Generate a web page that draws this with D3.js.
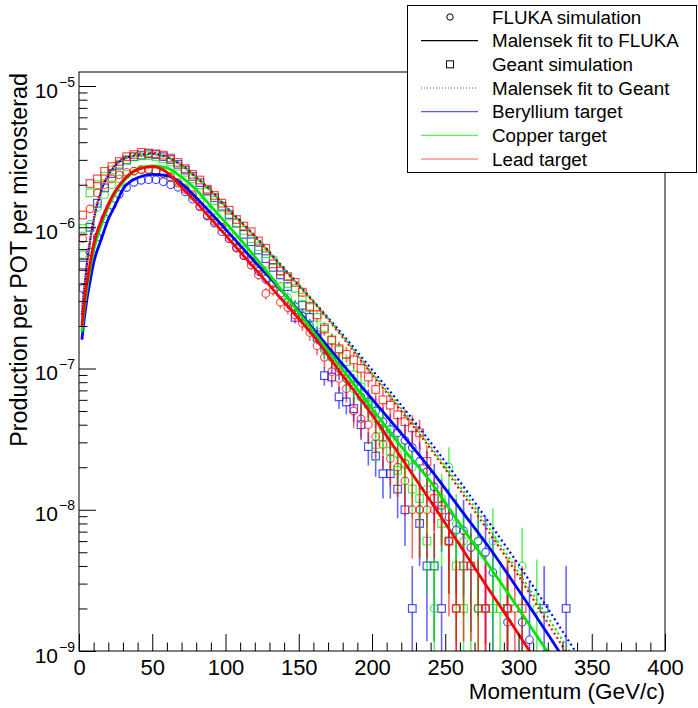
<!DOCTYPE html>
<html>
<head>
<meta charset="utf-8">
<script src="https://cdn.jsdelivr.net/npm/d3@7"></script>
<style>
  body { margin: 0; background: #fff; }
  svg text { font-family: "Liberation Sans", Arial, sans-serif; fill: #000; }
</style>
</head>
<body>
<svg id="chart" width="698" height="708"></svg>
<script>
// bin centres (GeV/c) shared by all simulated histograms
const momentum = [2.5, 7.5, 12.5, 17.5, 22.5, 27.5, 32.5, 37.5, 42.5, 47.5, 52.5, 57.5, 62.5, 67.5,
  72.5, 77.5, 82.5, 87.5, 92.5, 97.5, 102.5, 107.5, 112.5, 117.5, 122.5, 127.5, 132.5, 137.5,
  142.5, 147.5, 152.5, 157.5, 162.5, 167.5, 172.5, 177.5, 182.5, 187.5, 192.5, 197.5, 202.5,
  207.5, 212.5, 217.5, 222.5, 227.5, 232.5, 237.5, 242.5, 247.5, 252.5, 257.5, 262.5, 267.5,
  272.5, 277.5, 282.5, 287.5, 292.5, 297.5, 302.5, 307.5, 312.5, 317.5, 322.5, 327.5, 332.5];

// FLUKA simulation (circles)
const flukaBe = [3.7e-7, 6.7e-7, 8.5e-7, 1.15e-6, 1.43e-6, 1.71e-6, 1.91e-6, 2.08e-6, 2.15e-6, 2.17e-6,
  2.17e-6, 2.10e-6, 2.0e-6, 1.92e-6, 1.78e-6, 1.58e-6, 1.4e-6, 1.2e-6, 1.07e-6, 9.3e-7, 8.3e-7, 7.2e-7,
  6.3e-7, 5.75e-7, 4.9e-7, 4.3e-7, 4.0e-7, 3.4e-7, 2.95e-7, 2.75e-7, 2.35e-7, 2.0e-7, 1.74e-7, 1.38e-7,
  1.2e-7, 1.0e-7, 8.5e-8, 7.6e-8, 6.3e-8, 5.8e-8, 5.0e-8, 4.2e-8, 3.7e-8, 3.5e-8, 3.1e-8, 2.75e-8,
  2.2e-8, 1.86e-8, 1.45e-8, 1.07e-8, 8.9e-9, 7.2e-9, 7.1e-9, 5.4e-9, 6.0e-9, 5.0e-9, 3.6e-9, null,
  1.6e-9, null, 1.6e-9, 1.2e-9];
const flukaCu = [6.4e-7, 1.05e-6, 1.38e-6, 1.7e-6, 2.0e-6, 2.2e-6, 2.37e-6, 2.5e-6, 2.57e-6, 2.57e-6,
  2.5e-6, 2.4e-6, 2.29e-6, 2.09e-6, 1.9e-6, 1.66e-6, 1.51e-6, 1.32e-6, 1.17e-6, 1.0e-6, 9.1e-7, 7.9e-7,
  6.9e-7, 6.0e-7, 5.2e-7, 4.9e-7, 4.0e-7, 3.8e-7, 3.16e-7, 2.75e-7, 2.4e-7, 2.0e-7, 1.82e-7, 1.35e-7,
  1.2e-7, 1.05e-7, 8.5e-8, 7.2e-8, 6.3e-8, 5.5e-8, 4.4e-8, 3.8e-8, 3.2e-8, 2.5e-8, 2.14e-8, 2.0e-8,
  1.0e-8, 1.4e-8, 2e-9, 1.2e-8, 2.0e-8, 8e-9, 6e-9, 4e-9, 6e-9, null, 6e-9, null, 2e-9, null, 4e-9,
  null, 2e-9];
const flukaPb = [8.3e-7, 1.35e-6, 1.75e-6, 2.0e-6, 2.2e-6, 2.35e-6, 2.45e-6, 2.5e-6, 2.55e-6, 2.55e-6,
  2.5e-6, 2.4e-6, 2.25e-6, 2.05e-6, 1.85e-6, 1.7e-6, 1.4e-6, 1.22e-6, 1.1e-6, 1.0e-6, 8.3e-7, 7.1e-7,
  6.3e-7, 5.4e-7, 4.6e-7, 3.4e-7, 3.6e-7, 2.95e-7, 2.7e-7, 2.4e-7, 2.1e-7, 1.8e-7, 1.45e-7, 1.2e-7,
  9.5e-8, 8.5e-8, 7.2e-8, 5.0e-8, 4.4e-8, 4.0e-8, 3.3e-8, 2.9e-8, 2.3e-8, 2.0e-8, 1.6e-8, 1.0e-8,
  1.0e-8, 1.0e-8, 1.0e-8, null, 6e-9, 2e-9, null, null, 2e-9, 2e-9, null, null, 2e-9, 2e-9];

// Geant simulation (squares)
const geantBe = [5.4e-7, 1.0e-6, 1.48e-6, 1.9e-6, 2.4e-6, 2.75e-6, 2.99e-6, 3.16e-6, 3.24e-6, 3.31e-6,
  3.27e-6, 3.16e-6, 3.02e-6, 2.79e-6, 2.54e-6, 2.29e-6, 2.07e-6, 1.82e-6, 1.62e-6, 1.41e-6, 1.23e-6,
  1.07e-6, 8.9e-7, 7.9e-7, 6.9e-7, 6.0e-7, 5.2e-7, 4.6e-7, 3.8e-7, 2.3e-7, 2.8e-7, 2.3e-7, 1.66e-7,
  8.9e-8, 8.7e-8, 6.3e-8, 5.8e-8, 5.2e-8, 4.0e-8, 2.8e-8, 2.4e-8, 1.8e-8, 1.8e-8, 1.4e-8, 1.0e-8,
  2e-9, 8e-9, 4e-9, 4e-9, 2e-9, null, null, null, null, null, null, null, null, null, null, null,
  null, null, 2e-9, null, null, 2e-9];
const geantCu = [9.8e-7, 1.75e-6, 2.0e-6, 2.3e-6, 2.55e-6, 2.8e-6, 3.0e-6, 3.15e-6, 3.2e-6, 3.22e-6,
  3.15e-6, 3.05e-6, 2.9e-6, 2.7e-6, 2.45e-6, 2.2e-6, 2.0e-6, 1.78e-6, 1.55e-6, 1.38e-6, 1.2e-6,
  1.07e-6, 9.5e-7, 8.3e-7, 7.3e-7, 6.5e-7, 5.8e-7, 4.9e-7, 4.0e-7, 3.7e-7, 3.2e-7, 2.7e-7, 2.3e-7,
  1.95e-7, 1.6e-7, 1.35e-7, 1.12e-7, 9.0e-8, 7.4e-8, 5.6e-8, 2.9e-8, 3.3e-8, 2.6e-8, 1.9e-8, 2.1e-8,
  1.4e-8, 1.2e-8, 6e-9, 4e-9, 8e-9, 6e-9, 4e-9, 2e-9, null, 2e-9, null, 2e-9, 2e-9];
const geantPb = [1.22e-6, 2.04e-6, 2.2e-6, 2.49e-6, 2.69e-6, 2.92e-6, 3.16e-6, 3.27e-6, 3.39e-6, 3.35e-6,
  3.31e-6, 3.24e-6, 3.09e-6, 2.88e-6, 2.6e-6, 2.37e-6, 2.16e-6, 1.86e-6, 1.68e-6, 1.48e-6, 1.32e-6,
  1.135e-6, 1.02e-6, 9.3e-7, 8.0e-7, 7.1e-7, 5.5e-7, 4.9e-7, 4.47e-7, 4.07e-7, 3.47e-7, 2.75e-7, 2.4e-7,
  1.9e-7, 1.58e-7, 1.38e-7, 1.26e-7, 1.15e-7, 1.0e-7, 8.7e-8, 7.1e-8, 6.0e-8, 5.5e-8, 4.7e-8, 4.2e-8,
  3.8e-8, 3.5e-8, 2.2e-8, 1.2e-8, 1.0e-8, 6e-9, 2e-9, 4e-9, 4e-9, null, 2e-9, null, null, 2e-9, null, 2e-9];

// Malensek fits, sampled along the drawn curves
const fitMomentum = [2, 3, 5, 7.5, 10, 15, 20, 25, 30, 40, 50, 60, 70, 80, 90, 100, 120, 140, 160, 180,
  200, 220, 240, 260, 280, 300, 320, 340];
const fitFlukaBe = [1.6e-7, 2.0e-7, 2.9e-7, 4.1e-7, 5.6e-7, 8.1e-7, 1.14e-6, 1.45e-6, 1.86e-6, 2.24e-6,
  2.37e-6, 2.32e-6, 2.04e-6, 1.62e-6, 1.26e-6, 9.7e-7, 5.7e-7, 3.4e-7, 1.9e-7, 1.07e-7, 6.1e-8, 3.47e-8,
  1.93e-8, 1.02e-8, 5.4e-9, 2.7e-9, 1.32e-9, 6.3e-10];
const fitFlukaCu = [1.82e-7, 2.34e-7, 3.4e-7, 5.0e-7, 6.9e-7, 1.02e-6, 1.40e-6, 1.76e-6, 2.09e-6, 2.57e-6,
  2.72e-6, 2.63e-6, 2.26e-6, 1.84e-6, 1.41e-6, 1.08e-6, 6.2e-7, 3.4e-7, 1.82e-7, 9.8e-8, 5.2e-8, 2.8e-8,
  1.58e-8, 7.9e-9, 4.0e-9, 2.0e-9, 9.8e-10, 4.7e-10];
const fitFlukaPb = [2.0e-7, 2.57e-7, 3.8e-7, 5.5e-7, 7.6e-7, 1.10e-6, 1.46e-6, 1.82e-6, 2.14e-6, 2.57e-6,
  2.69e-6, 2.45e-6, 1.92e-6, 1.5e-6, 1.15e-6, 8.8e-7, 5.1e-7, 2.95e-7, 1.7e-7, 8.9e-8, 4.7e-8, 2.34e-8,
  1.15e-8, 5.6e-9, 2.7e-9, 1.32e-9, 6.3e-10, 3.0e-10];
const fitGeantBe = [2.4e-7, 3.16e-7, 5.0e-7, 7.9e-7, 1.12e-6, 1.78e-6, 2.34e-6, 2.75e-6, 3.02e-6, 3.24e-6,
  3.31e-6, 3.13e-6, 2.75e-6, 2.26e-6, 1.82e-6, 1.41e-6, 8.7e-7, 5.1e-7, 3.0e-7, 1.74e-7, 9.8e-8, 5.5e-8,
  3.0e-8, 1.58e-8, 8.1e-9, 4.1e-9, 2.0e-9, 9.5e-10];
const fitGeantCu = [2.3e-7, 3.1e-7, 4.9e-7, 7.8e-7, 1.1e-6, 1.76e-6, 2.3e-6, 2.72e-6, 3.0e-6, 3.2e-6,
  3.25e-6, 3.1e-6, 2.73e-6, 2.25e-6, 1.81e-6, 1.4e-6, 8.6e-7, 5.05e-7, 2.99e-7, 1.7e-7, 9.3e-8, 5.2e-8,
  2.8e-8, 1.46e-8, 7.4e-9, 3.6e-9, 1.74e-9, 8.1e-10];
const fitGeantPb = [2.5e-7, 3.25e-7, 5.1e-7, 8.1e-7, 1.14e-6, 1.8e-6, 2.37e-6, 2.79e-6, 3.07e-6, 3.3e-6,
  3.35e-6, 3.16e-6, 2.76e-6, 2.26e-6, 1.81e-6, 1.4e-6, 8.6e-7, 5.0e-7, 2.95e-7, 1.66e-7, 9.1e-8, 5.0e-8,
  2.7e-8, 1.38e-8, 6.9e-9, 3.4e-9, 1.58e-9, 7.4e-10];

// weight of one simulated entry, sets the size of the statistical error bars
const entryWeight = { fluka: 3e-9, geant: 2e-9 };

const xTicks = [0, 50, 100, 150, 200, 250, 300, 350, 400];
const xMinorTicks = [10, 20, 30, 40, 60, 70, 80, 90, 110, 120, 130, 140, 160, 170, 180, 190, 210, 220,
  230, 240, 260, 270, 280, 290, 310, 320, 330, 340, 360, 370, 380, 390];
const yDecades = [1e-9, 1e-8, 1e-7, 1e-6, 1e-5];

const targets = [
  { name: 'Beryllium target', color: '#0000ff', fluka: flukaBe, geant: geantBe, flukaFit: fitFlukaBe, geantFit: fitGeantBe },
  { name: 'Copper target', color: '#00e600', fluka: flukaCu, geant: geantCu, flukaFit: fitFlukaCu, geantFit: fitGeantCu },
  { name: 'Lead target', color: '#ff0000', fluka: flukaPb, geant: geantPb, flukaFit: fitFlukaPb, geantFit: fitGeantPb }
];

const frame = { left: 79, right: 665, top: 72, bottom: 651 };
const svg = d3.select('#chart');

const x = d3.scaleLinear().domain([0, 400]).range([frame.left, frame.right]);
const y = d3.scaleLog().domain([1e-9, 1e-5]).range([frame.bottom, 86]);

svg.append('clipPath').attr('id', 'clip')
  .append('rect')
  .attr('x', frame.left).attr('y', frame.top)
  .attr('width', frame.right - frame.left).attr('height', frame.bottom - frame.top);

const plot = svg.append('g').attr('clip-path', 'url(#clip)');
const half = 3.8; // marker half size

const drawPoints = (values, kind, color) => {
  const pts = momentum.map((p, i) => ({ p: p, v: values[i] })).filter(d => d.v != null);
  const g = plot.append('g');
  // error bars, drawn only outside the marker
  pts.forEach(d => {
    const err = Math.sqrt(d.v * entryWeight[kind]);
    const cx = x(d.p), cy = y(d.v);
    const yTop = y(d.v + err);
    const yBot = d.v - err > 0 ? y(d.v - err) : frame.bottom + 5;
    if (yTop < cy - half) {
      g.append('line').attr('x1', cx).attr('x2', cx).attr('y1', yTop).attr('y2', cy - half)
        .attr('stroke', color).attr('stroke-width', 1.6).attr('stroke-opacity', 0.6);
    }
    if (yBot > cy + half) {
      g.append('line').attr('x1', cx).attr('x2', cx).attr('y1', cy + half).attr('y2', yBot)
        .attr('stroke', color).attr('stroke-width', 1.6).attr('stroke-opacity', 0.6);
    }
  });
  if (kind === 'fluka') {
    g.selectAll('circle').data(pts).enter().append('circle')
      .attr('cx', d => x(d.p)).attr('cy', d => y(d.v)).attr('r', half)
      .attr('fill', 'none').attr('stroke', color).attr('stroke-width', 1.2).attr('stroke-opacity', 0.7);
  } else {
    g.selectAll('rect').data(pts).enter().append('rect')
      .attr('x', d => x(d.p) - half).attr('y', d => y(d.v) - half)
      .attr('width', half * 2).attr('height', half * 2)
      .attr('fill', 'none').attr('stroke', color).attr('stroke-width', 1.2).attr('stroke-opacity', 0.7);
  }
};

targets.forEach(t => {
  drawPoints(t.fluka, 'fluka', t.color);
  drawPoints(t.geant, 'geant', t.color);
});

const fitLine = d3.line()
  .x((d, i) => x(fitMomentum[i]))
  .y(d => y(d))
  .curve(d3.curveMonotoneX);

targets.forEach(t => {
  plot.append('path').datum(t.geantFit)
    .attr('d', fitLine).attr('fill', 'none')
    .attr('stroke', t.color).attr('stroke-width', 2.2).attr('stroke-dasharray', '2,3');
});
targets.forEach(t => {
  plot.append('path').datum(t.flukaFit)
    .attr('d', fitLine).attr('fill', 'none')
    .attr('stroke', t.color).attr('stroke-width', 2.8);
});

// frame
svg.append('rect')
  .attr('x', frame.left).attr('y', frame.top)
  .attr('width', frame.right - frame.left).attr('height', frame.bottom - frame.top)
  .attr('fill', 'none').attr('stroke', '#000').attr('stroke-width', 1);

// x axis: ticks point into the frame
const xAxis = svg.append('g').attr('transform', `translate(0,${frame.bottom})`)
  .call(d3.axisBottom(x).tickValues(xTicks).tickSize(-17).tickPadding(8).tickFormat(d3.format('d')));
svg.append('g').attr('transform', `translate(0,${frame.bottom})`)
  .call(d3.axisBottom(x).tickValues(xMinorTicks).tickSize(-8.5).tickFormat(''));
svg.selectAll('.domain').remove();
xAxis.selectAll('text').attr('font-size', 22).attr('fill', '#000')
  .style('font-family', '"Liberation Sans", Arial, sans-serif');

// y axis: decades with 10^n labels, minor ticks at 2..9
const yMinor = [];
yDecades.slice(0, -1).forEach(dec => {
  for (let k = 2; k <= 9; k++) yMinor.push(dec * k);
});
const yAxis = svg.append('g').attr('transform', `translate(${frame.left},0)`)
  .call(d3.axisLeft(y).tickValues(yDecades).tickSize(-17).tickPadding(4).tickFormat(''));
svg.append('g').attr('transform', `translate(${frame.left},0)`)
  .call(d3.axisLeft(y).tickValues(yMinor).tickSize(-8.5).tickFormat(''));
svg.selectAll('.domain').remove();
svg.selectAll('.tick line').attr('stroke', '#000');

yAxis.selectAll('.tick text').each(function (d) {
  const txt = d3.select(this).attr('dy', null).attr('y', 11)
    .style('font-family', '"Liberation Sans", Arial, sans-serif').attr('fill', '#000');
  txt.append('tspan').attr('font-size', 21).text('10');
  txt.append('tspan').attr('font-size', 14).attr('dy', -11).attr('dx', 1)
    .text('\u2212' + Math.round(-Math.log10(d)));
});

// axis titles
svg.append('text')
  .attr('x', frame.right).attr('y', 699)
  .attr('text-anchor', 'end').attr('font-size', 22.5)
  .text('Momentum (GeV/c)');
svg.append('text')
  .attr('transform', `translate(27,${frame.top + 1}) rotate(-90)`)
  .attr('text-anchor', 'end').attr('font-size', 23.3)
  .text('Production per POT per microsterad');

// legend
const legend = svg.append('g');
legend.append('rect')
  .attr('x', 407.5).attr('y', 5.5).attr('width', 289).attr('height', 167)
  .attr('fill', '#fff').attr('stroke', '#000').attr('stroke-width', 1);

const legendRows = [
  { label: 'FLUKA simulation', kind: 'circle', color: '#000' },
  { label: 'Malensek fit to FLUKA', kind: 'line', color: '#000' },
  { label: 'Geant simulation', kind: 'square', color: '#000' },
  { label: 'Malensek fit to Geant', kind: 'dotted', color: '#555' },
  { label: targets[0].name, kind: 'line', color: targets[0].color, light: true },
  { label: targets[1].name, kind: 'line', color: targets[1].color, light: true },
  { label: targets[2].name, kind: 'line', color: targets[2].color, light: true }
];
const rowY = d3.scalePoint().domain(d3.range(legendRows.length)).range([17, 159]);

legendRows.forEach((r, i) => {
  const cy = rowY(i);
  if (r.kind === 'circle') {
    legend.append('circle').attr('cx', 450).attr('cy', cy).attr('r', 3.2)
      .attr('fill', 'none').attr('stroke', r.color).attr('stroke-width', 1);
  } else if (r.kind === 'square') {
    legend.append('rect').attr('x', 446.5).attr('y', cy - 3.5).attr('width', 7).attr('height', 7)
      .attr('fill', 'none').attr('stroke', r.color).attr('stroke-width', 1);
  } else {
    legend.append('line').attr('x1', 421).attr('x2', 478).attr('y1', cy).attr('y2', cy)
      .attr('stroke', r.color).attr('stroke-width', r.kind === 'dotted' ? 1 : 1.2)
      .attr('stroke-opacity', r.light ? 0.65 : 1)
      .attr('stroke-dasharray', r.kind === 'dotted' ? '1,2' : null);
  }
  legend.append('text').attr('x', 492).attr('y', cy + 6.5)
    .attr('font-size', 18.8).text(r.label);
});
</script>
</body>
</html>
